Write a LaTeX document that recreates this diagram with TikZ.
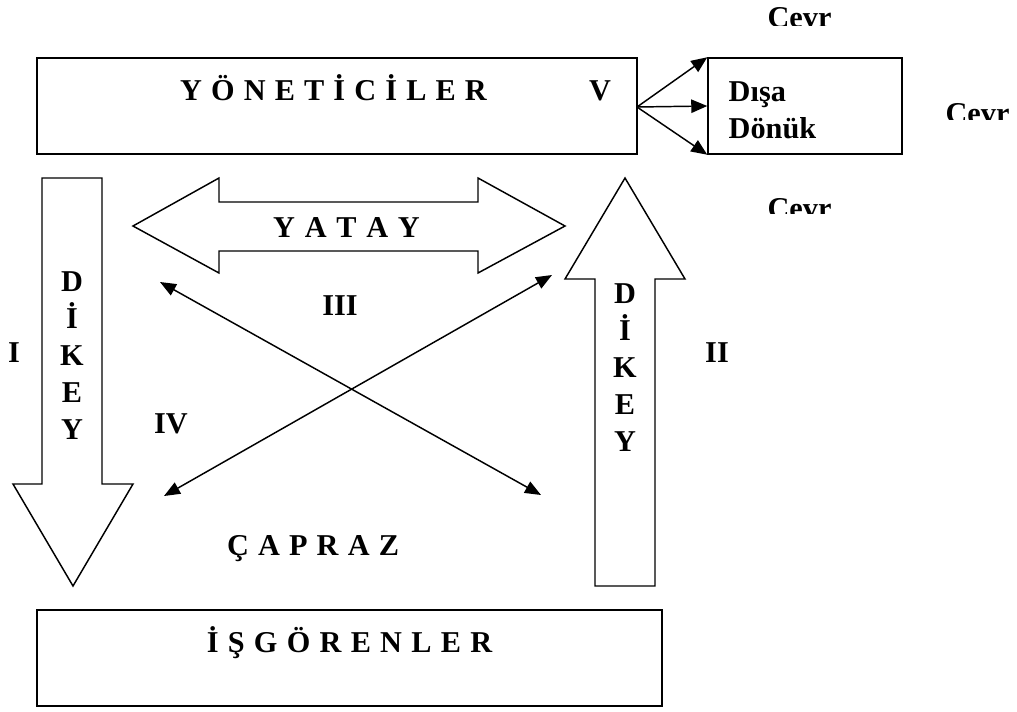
\documentclass[tikz,border=0pt]{standalone}
\usepackage{fontspec}
\setmainfont{Liberation Serif}
\usetikzlibrary{arrows.meta,fit}
\begin{document}
\begin{tikzpicture}[x=0.75pt,y=-0.75pt,line width=1.1pt,
  lbl/.style={font=\fontsize{22.7}{27.6}\selectfont\bfseries,inner sep=0pt},
  frame/.style={draw,inner sep=0pt,line width=1.1pt},
  blockarrow/.style={draw,line width=1.1pt,line join=miter},
  tip/.style={-{Triangle[length=12pt,width=10pt]}},
  both/.style={{Triangle[length=12pt,width=9.5pt]}-{Triangle[length=12pt,width=9.5pt]}}]
\useasboundingbox (0,0) rectangle (1017,711);

% boxes
\node[frame,fit={(37,58) (637,154)}] (yon) {};
\node[frame,fit={(708,58) (902,154)}] (dis) {};
\node[frame,fit={(37,610) (662,706)}] (isg) {};

% box texts
\node[lbl,anchor=base] (tyon) at (333.5,100) {\makebox[230pt][s]{Y Ö N E T İ C İ L E R}};
\node[lbl,anchor=base] (tv) at (600,100) {V};
\node[lbl,anchor=base west] (tdisa) at (728,101) {Dışa};
\node[lbl,anchor=base west] (tdonuk) at (728,138) {Dönük};
\node[lbl,anchor=base] (tisg) at (349.5,652) {\makebox[214pt][s]{İ Ş G Ö R E N L E R}};

% outward arrows
\coordinate (vsrc) at (637,107);
\draw[tip] (vsrc) -- (dis.north west);
\draw[tip] (vsrc) -- (dis.west);
\draw[tip] (vsrc) -- (dis.south west);

% environment labels, cut at the bottom
\begin{scope}
  \clip (750,0) rectangle (850,25);
  \node[lbl,anchor=base] (cev1) at (799.5,27) {Cevr};
\end{scope}
\begin{scope}
  \clip (930,95) rectangle (1017,119);
  \node[lbl,anchor=base] (cev2) at (977.5,123) {Cevr};
\end{scope}
\begin{scope}
  \clip (750,190) rectangle (850,213);
  \node[lbl,anchor=base] (cev3) at (799.5,218) {Cevr};
\end{scope}

% downward block arrow
\draw[blockarrow] (42,178) -- (102,178) -- (102,484) -- (133,484) -- (73,586)
  -- (13,484) -- (42,484) -- cycle;
% upward block arrow
\draw[blockarrow] (595,586) -- (595,279) -- (565,279) -- (625,178) -- (685,279)
  -- (655,279) -- (655,586) -- cycle;
% horizontal double block arrow
\draw[blockarrow] (133,226) -- (219,178) -- (219,202) -- (478,202) -- (478,178)
  -- (565,226) -- (478,273) -- (478,251) -- (219,251) -- (219,273) -- cycle;

\node[lbl,align=center] (dk1) at (72,355.5) {D\\İ\\K\\E\\Y};
\node[lbl,align=center] (dk2) at (625,367.5) {D\\İ\\K\\E\\Y};
\node[lbl,anchor=base] (tyatay) at (346.5,237) {\makebox[110pt][s]{Y A T A Y}};

% diagonal arrows
\coordinate (a1) at (164,496);
\coordinate (a2) at (552,275);
\coordinate (b1) at (160,282);
\coordinate (b2) at (541,495);
\draw[both] (a1) -- (a2);
\draw[both] (b1) -- (b2);

% numerals and labels
\node[lbl,anchor=base] (n1) at (14,362) {I};
\node[lbl,anchor=base] (n2) at (717,362) {II};
\node[lbl,anchor=base] (n3) at (340,315) {III};
\node[lbl,anchor=base] (n4) at (171,433) {IV};
\node[lbl,anchor=base] (tcapraz) at (313,555) {\makebox[129pt][s]{Ç A P R A Z}};
\end{tikzpicture}
\end{document}
